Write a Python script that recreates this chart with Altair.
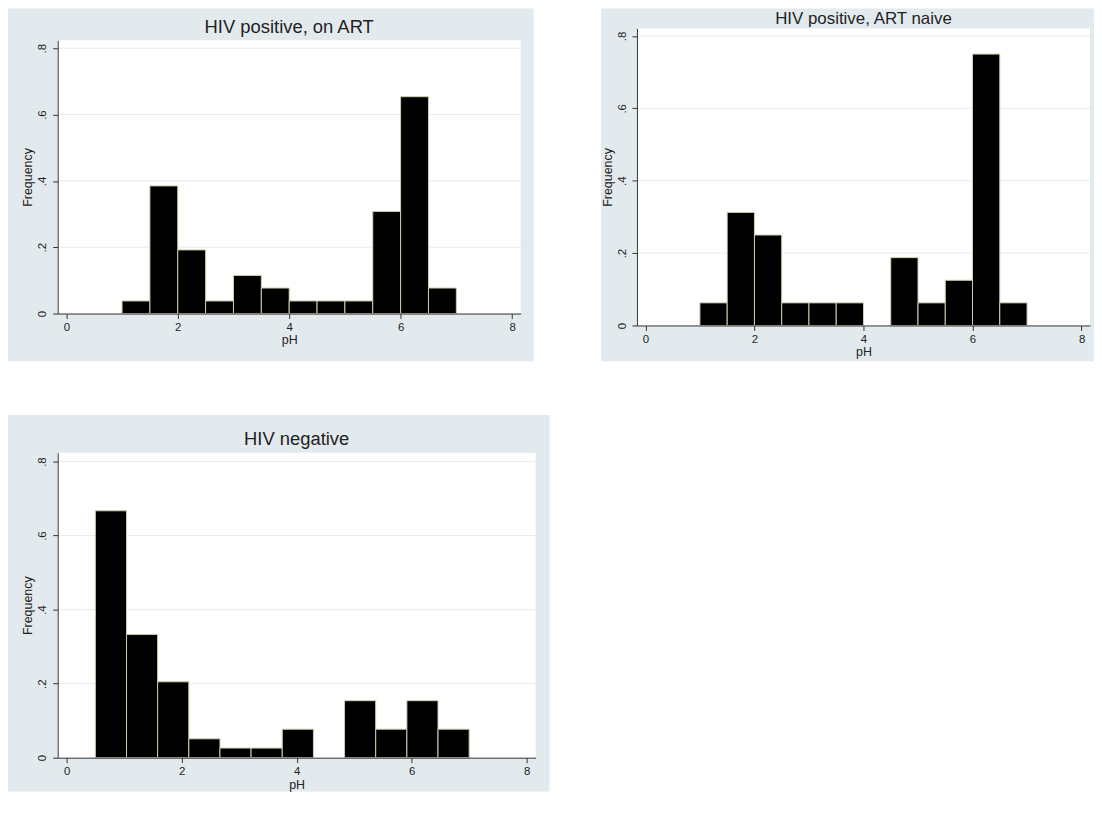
import altair as alt
import pandas as pd

# ---------------- data ----------------
titles = ["HIV positive, on ART", "HIV positive, ART naive", "HIV negative"]

art_edges = [1.0, 1.5, 2.0, 2.5, 3.0, 3.5, 4.0, 4.5, 5.0, 5.5, 6.0, 6.5, 7.0]
art_freq = [0.038, 0.385, 0.192, 0.038, 0.115, 0.077, 0.038, 0.038, 0.038, 0.308, 0.654, 0.077]

naive_edges = [1.0, 1.5, 2.0, 2.5, 3.0, 3.5, 4.0, 4.5, 5.0, 5.5, 6.0, 6.5, 7.0]
naive_freq = [0.0625, 0.3125, 0.25, 0.0625, 0.0625, 0.0625, 0.0, 0.1875, 0.0625, 0.125, 0.75, 0.0625]

neg_edges = [0.5, 1.042, 1.583, 2.125, 2.667, 3.208, 3.75, 4.292, 4.833, 5.375, 5.917, 6.458, 7.0]
neg_freq = [0.667, 0.333, 0.205, 0.051, 0.026, 0.026, 0.077, 0.0, 0.154, 0.077, 0.154, 0.077]

x_ticks = [0, 2, 4, 6, 8]
y_ticks = [0, 0.2, 0.4, 0.6, 0.8]

# ---------------- style ----------------
BG = "#e3eaee"
GRID = "#e6ecef"
AX = "#333333"
TXT = "#222222"
EDGE = "#d2cdb0"
FONT = "Liberation Sans"
X_DOMAIN = [-0.155, 8.155]


def panel(title, edges, freq, w, h, top, ymax, ext, tsize, ty):
    """h: group height (bottom of plot); top: y of plot top (<=0 extends above origin)."""
    L, T, R, B = ext
    df = pd.DataFrame({"lo": edges[:-1], "hi": edges[1:], "freq": freq})
    df = df[df["freq"] > 0]
    gdf = pd.DataFrame({"freq": y_ticks[1:]})
    one = pd.DataFrame({"label": [title]})
    xs = alt.Scale(domain=X_DOMAIN, nice=False, zero=False)
    ys = alt.Scale(domain=[0, ymax], nice=False, zero=True, range=[h, top])
    xaxis = alt.Axis(values=x_ticks, format="d", title="pH", grid=False,
                     tickSize=5, labelPadding=3, titlePadding=1,
                     domainColor=AX, tickColor=AX, labelColor=TXT, titleColor=TXT,
                     labelFontSize=11.5, titleFontSize=12.5, titleFontWeight="normal",
                     zindex=1)
    yaxis = alt.Axis(values=y_ticks, title="Frequency", grid=False,
                     labelExpr="datum.value == 0 ? '0' : replace(format(datum.value, '.1f'), '0.', '.')",
                     labelAngle=270, labelAlign="center", labelBaseline="bottom",
                     tickSize=5, labelPadding=5, titlePadding=2,
                     domainColor=AX, tickColor=AX, labelColor=TXT, titleColor=TXT,
                     labelFontSize=11.5, titleFontSize=12.5, titleFontWeight="normal",
                     zindex=1)
    bg = alt.Chart(one).mark_rect(fill=BG, clip=False).encode(
        x=alt.value(-L), x2=alt.value(w + R), y=alt.value(-T), y2=alt.value(h + B))
    white = alt.Chart(one).mark_rect(fill="white").encode(
        x=alt.value(0), x2=alt.value(w), y=alt.value(top), y2=alt.value(h))
    ttl = alt.Chart(one).mark_text(font=FONT, fontSize=tsize, color=TXT,
                                   align="center", baseline="alphabetic").encode(
        x=alt.value(w / 2), y=alt.value(ty), text="label:N")
    grid = alt.Chart(gdf).mark_rule(color=GRID, strokeWidth=1).encode(
        y=alt.Y("freq:Q", scale=ys, axis=yaxis))
    bars = alt.Chart(df).mark_rect(fill="black", stroke=EDGE, strokeWidth=1).encode(
        x=alt.X("lo:Q", scale=xs, axis=xaxis),
        x2="hi:Q",
        y=alt.Y("freq:Q", scale=ys, axis=yaxis),
        y2=alt.datum(0),
    )
    return alt.layer(bg, white, ttl, grid, bars).properties(width=w, height=h)


p1 = panel(titles[0], art_edges, art_freq, 466, 275, 0, 0.824, (50, 32, 13, 48), 18.5, -7)
p2 = panel(titles[1], naive_edges, naive_freq, 456, 287, -12, 0.821, (36, 32, 4, 36), 17, -16.5)
p3 = panel(titles[2], neg_edges, neg_freq, 481, 307, 0, 0.824, (50, 38, 14, 34), 18.5, -8)

top = alt.hconcat(p1, p2, spacing=68)
chart = alt.vconcat(top, p3, spacing=54).properties(
    padding={"left": 0, "top": -2, "right": 0, "bottom": 0}, background="white"
).configure_view(strokeWidth=0).configure_axis(
    labelFont=FONT, titleFont=FONT
)

chart.save("out.html", embed_options={"renderer": "svg", "actions": False})
